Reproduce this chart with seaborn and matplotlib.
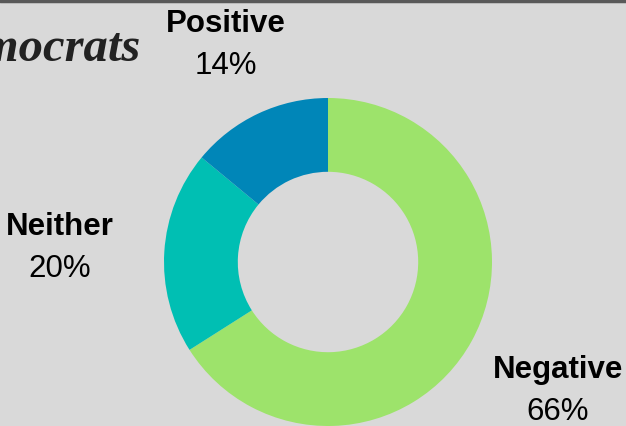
import matplotlib
matplotlib.use("Agg")
import matplotlib.pyplot as plt
import seaborn as sns

# data
labels = ["Negative", "Neither", "Positive"]
shares = [66, 20, 14]
colors = ["#9de36b", "#00bfb3", "#0086b8"]

sns.set_theme(style="white")
plt.rcParams['font.family'] = ['Liberation Sans', 'DejaVu Sans']

fig = plt.figure(figsize=(6.26, 4.26), dpi=100, facecolor="#d9d9d9")
ax = fig.add_axes([0, 0, 1, 1])
ax.set_facecolor("#d9d9d9")

pal = sns.color_palette(colors)
ax.pie(shares, colors=pal, startangle=90, counterclock=False,
       center=(328, 164), radius=164, frame=True,
       wedgeprops=dict(width=164 * 0.45, edgecolor="none"))
ax.set_xlim(0, 626)
ax.set_ylim(0, 426)
ax.set_aspect("equal")
ax.axis("off")

# outside labels (name bold, share below)
label_pos = {"Negative": (558, 56), "Neither": (60, 199), "Positive": (226, 402)}
for name, val in zip(labels, shares):
    x, y = label_pos[name]
    ax.text(x, y, name, ha="center", va="center", fontsize=22.5,
            fontweight="bold", color="black")
    ax.text(x, y - 42, f"{val}%", ha="center", va="center", fontsize=22.5,
            color="black")

# title, cut off at the left edge as in the original
ax.text(140, 377, "Views of Democrats", ha="right", va="center", fontsize=35,
        family=["Liberation Serif", "DejaVu Serif"], style="italic",
        fontweight="bold", color="#222222")

# top border line
ax.axhline(425.5, color="#595959", lw=2.5)

fig.savefig("out.png", dpi=100, facecolor=fig.get_facecolor())
